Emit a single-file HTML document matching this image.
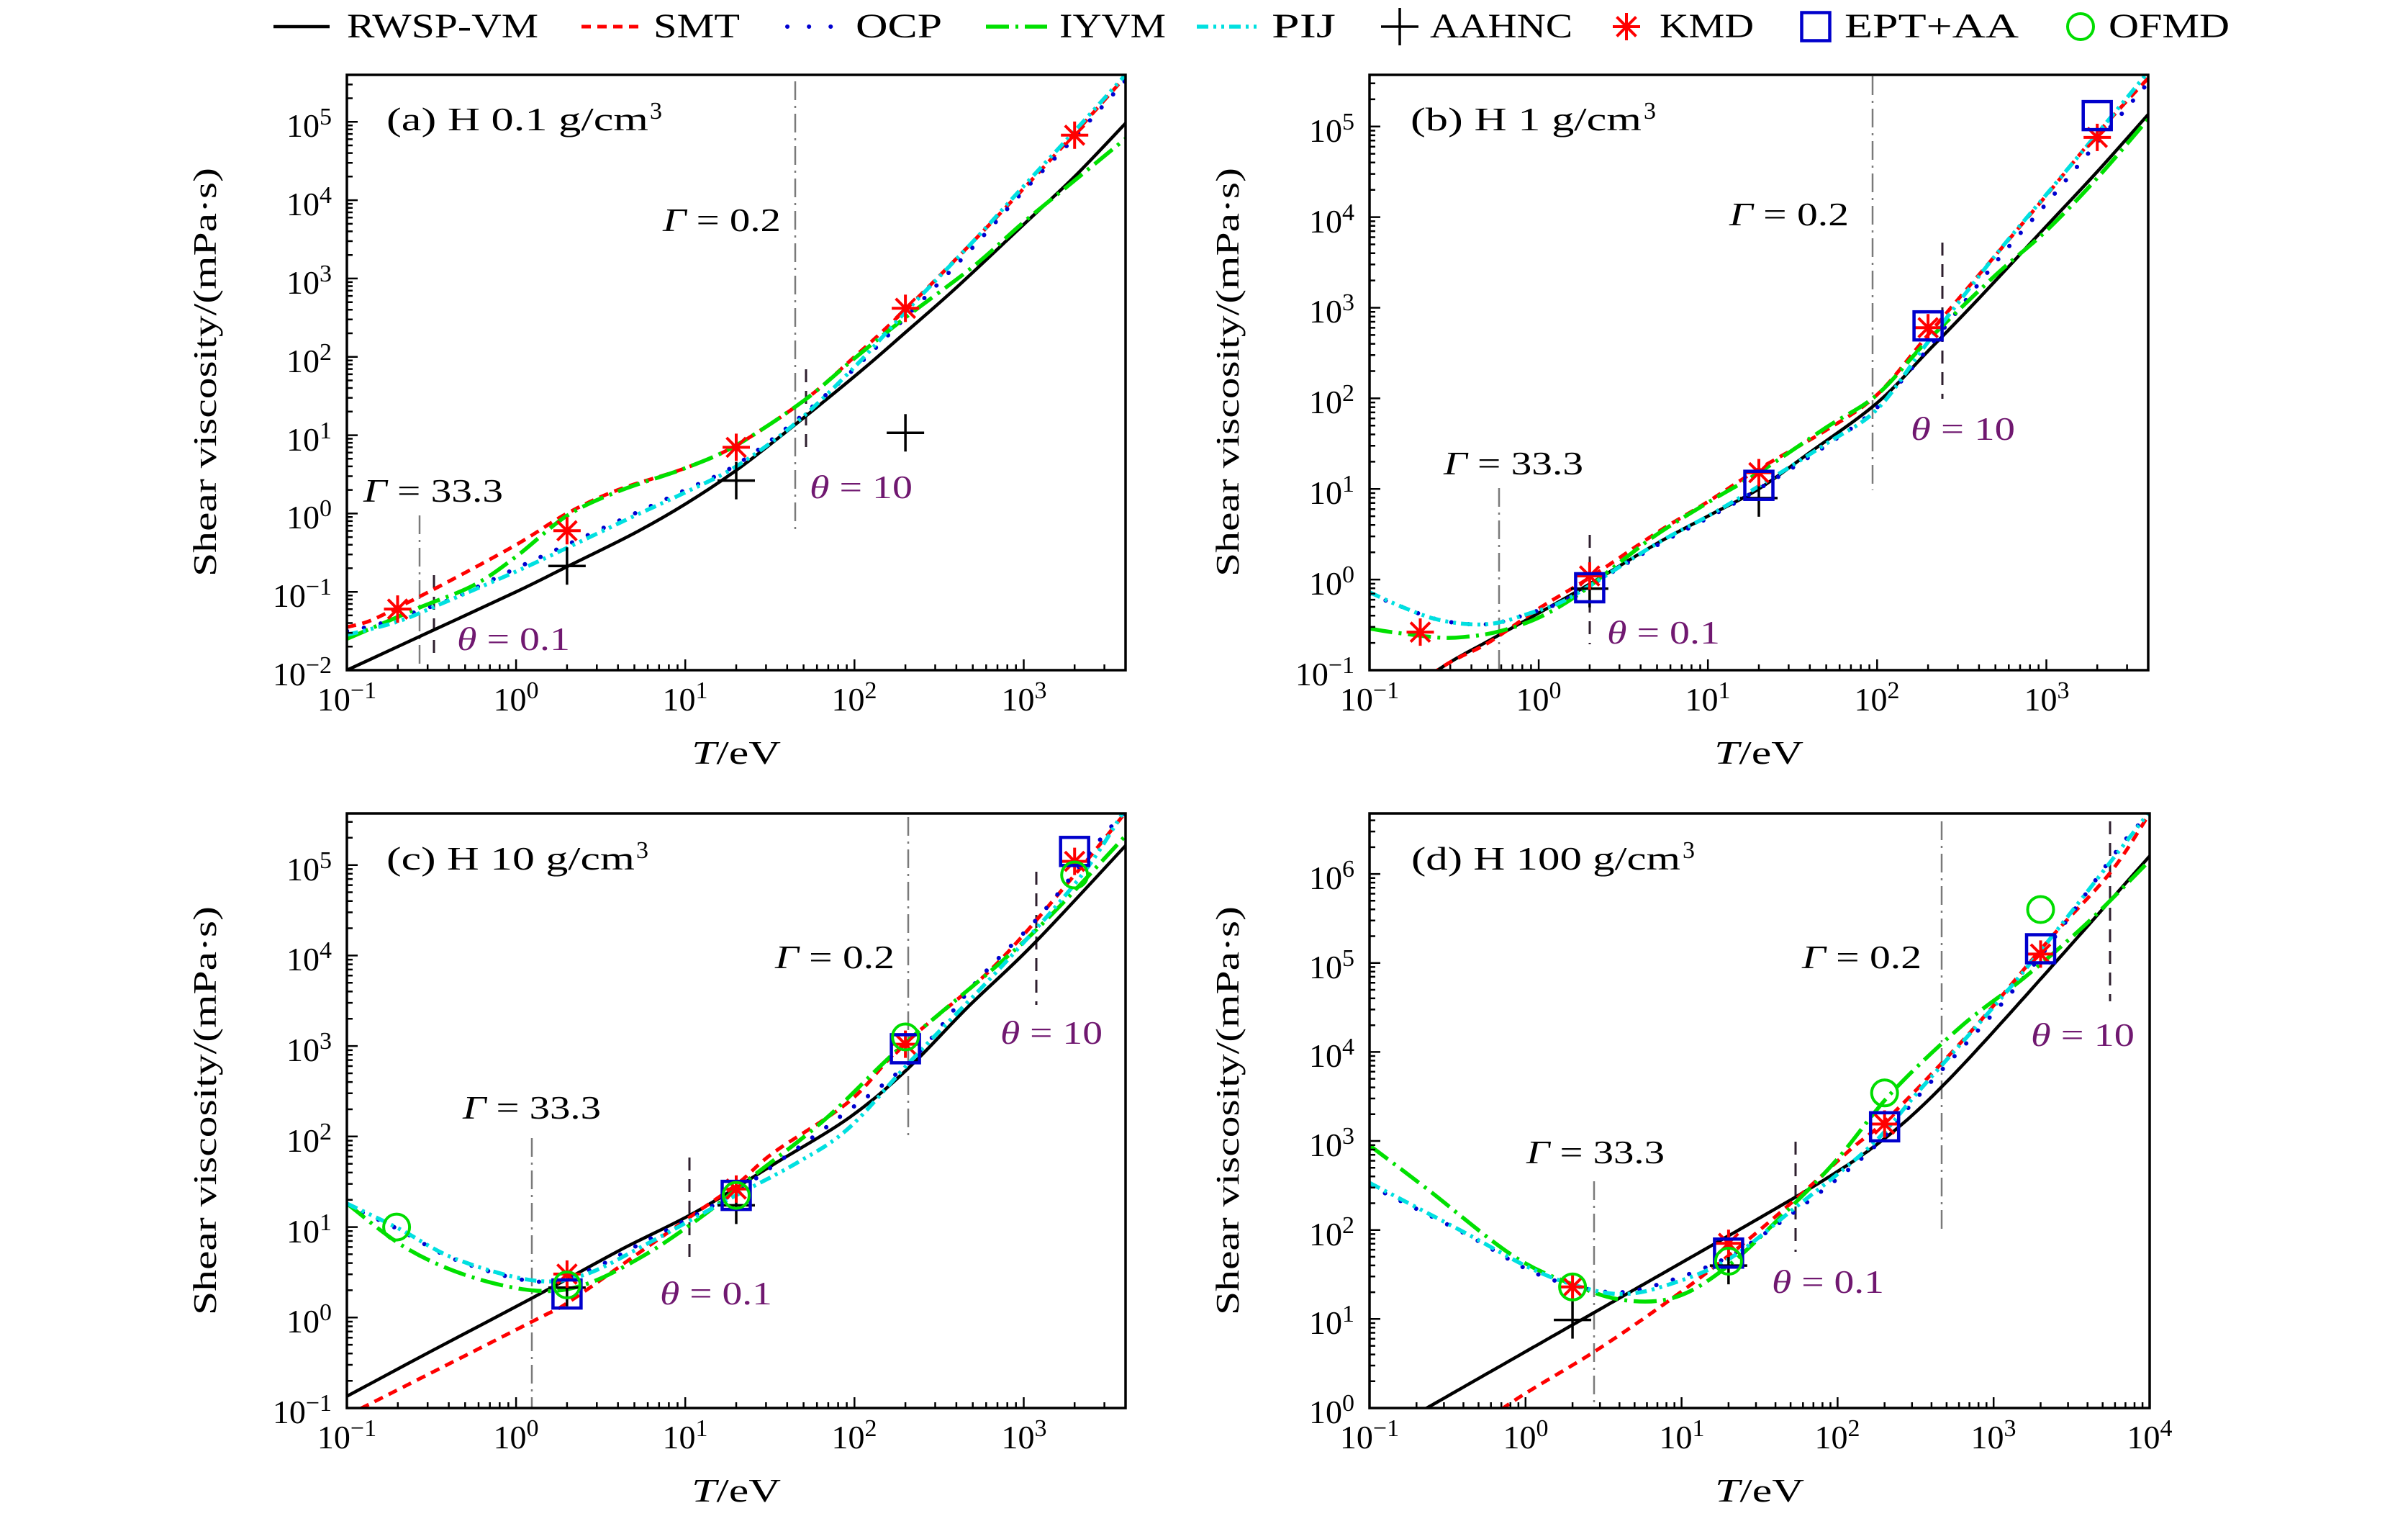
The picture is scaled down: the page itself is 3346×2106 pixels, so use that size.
<!DOCTYPE html>
<html>
<head>
<meta charset="utf-8">
<style>
html,body{margin:0;padding:0;background:#fff;}
svg{display:block;}
text{font-family:"Liberation Serif","DejaVu Serif",serif;fill:#000;}
.pu{fill:#701870;}
</style>
</head>
<body>
<svg id="s" xmlns="http://www.w3.org/2000/svg" width="3346" height="2106" viewBox="0 0 3346 2106">
<rect x="0" y="0" width="3346" height="2106" fill="#fff"/>
<defs>
<clipPath id="ca"><rect x="482" y="104" width="1082" height="827"/></clipPath>
<clipPath id="cb"><rect x="1903" y="104" width="1082" height="827"/></clipPath>
<clipPath id="cc"><rect x="482" y="1130" width="1082" height="826"/></clipPath>
<clipPath id="cd"><rect x="1903" y="1130" width="1084" height="826"/></clipPath>
</defs>

<!-- reference lines -->
<g fill="none">
<g stroke="#7a7a7a" stroke-width="2.5" stroke-dasharray="26 8 3 8">
<line x1="583" y1="716" x2="583" y2="922"/>
<line x1="1105" y1="113" x2="1105" y2="740"/>
<line x1="2083" y1="678" x2="2083" y2="931"/>
<line x1="2602" y1="106" x2="2602" y2="681"/>
<line x1="739" y1="1581" x2="739" y2="1956"/>
<line x1="1262" y1="1135" x2="1262" y2="1581"/>
<line x1="2215" y1="1641" x2="2215" y2="1956"/>
<line x1="2698" y1="1141" x2="2698" y2="1711"/>
</g>
<g stroke="#2e1f2e" stroke-width="3" stroke-dasharray="18 12">
<line x1="603" y1="799" x2="603" y2="915"/>
<line x1="1120" y1="513" x2="1120" y2="626"/>
<line x1="2209" y1="743" x2="2209" y2="895"/>
<line x1="2699" y1="337" x2="2699" y2="554"/>
<line x1="958" y1="1608" x2="958" y2="1755"/>
<line x1="1440" y1="1211" x2="1440" y2="1396"/>
<line x1="2495" y1="1586" x2="2495" y2="1739"/>
<line x1="2932" y1="1141" x2="2932" y2="1391"/>
</g>
</g>

<g id="plots"></g>

<!-- Legend -->
<g fill="none">
<line x1="380" y1="37" x2="458" y2="37" stroke="#000" stroke-width="4.5"/>
<line x1="808" y1="37" x2="890" y2="37" stroke="#f00" stroke-width="5" stroke-dasharray="13 9"/>
<line x1="1094" y1="37" x2="1175" y2="37" stroke="#0000d0" stroke-width="6" stroke-dasharray="0.1 30" stroke-linecap="round"/>
<line x1="1370" y1="37" x2="1455" y2="37" stroke="#00e000" stroke-width="5.5" stroke-dasharray="32 9 4 9"/>
<line x1="1663" y1="37" x2="1750" y2="37" stroke="#00e0e0" stroke-width="5.5" stroke-dasharray="16 7 4 7 4 7"/>
</g>
<g font-size="48">
<text x="482" y="52" textLength="266" lengthAdjust="spacingAndGlyphs">RWSP-VM</text>
<text x="908" y="52" textLength="120" lengthAdjust="spacingAndGlyphs">SMT</text>
<text x="1189" y="52" textLength="120" lengthAdjust="spacingAndGlyphs">OCP</text>
<text x="1472" y="52" textLength="148" lengthAdjust="spacingAndGlyphs">IYVM</text>
<text x="1767" y="52" textLength="89" lengthAdjust="spacingAndGlyphs">PIJ</text>
<text x="1987" y="52" textLength="198" lengthAdjust="spacingAndGlyphs">AAHNC</text>
<text x="2306" y="52" textLength="131" lengthAdjust="spacingAndGlyphs">KMD</text>
<text x="2563" y="52" textLength="242" lengthAdjust="spacingAndGlyphs">EPT+AA</text>
<text x="2930" y="52" textLength="168" lengthAdjust="spacingAndGlyphs">OFMD</text>
</g>

<!-- Panel titles -->
<g font-size="46">
<text x="537" y="181" textLength="364" lengthAdjust="spacingAndGlyphs">(a) H 0.1 g/cm</text>
<text x="903" y="165" font-size="34">3</text>
<text x="1960" y="181" textLength="321" lengthAdjust="spacingAndGlyphs">(b) H 1 g/cm</text>
<text x="2284" y="165" font-size="34">3</text>
<text x="537" y="1208" textLength="345" lengthAdjust="spacingAndGlyphs">(c) H 10 g/cm</text>
<text x="884" y="1192" font-size="34">3</text>
<text x="1961" y="1208" textLength="374" lengthAdjust="spacingAndGlyphs">(d) H 100 g/cm</text>
<text x="2338" y="1192" font-size="34">3</text>
</g>

<!-- Gamma / theta annotations -->
<g font-size="46">
<text x="921" y="321" textLength="164" lengthAdjust="spacingAndGlyphs"><tspan font-style="italic">Γ</tspan> = 0.2</text>
<text x="2403" y="313" textLength="166" lengthAdjust="spacingAndGlyphs"><tspan font-style="italic">Γ</tspan> = 0.2</text>
<text x="1077" y="1345" textLength="166" lengthAdjust="spacingAndGlyphs"><tspan font-style="italic">Γ</tspan> = 0.2</text>
<text x="2504" y="1345" textLength="166" lengthAdjust="spacingAndGlyphs"><tspan font-style="italic">Γ</tspan> = 0.2</text>

<text x="505" y="697" textLength="194" lengthAdjust="spacingAndGlyphs"><tspan font-style="italic">Γ</tspan> = 33.3</text>
<text x="2006" y="659" textLength="194" lengthAdjust="spacingAndGlyphs"><tspan font-style="italic">Γ</tspan> = 33.3</text>
<text x="643" y="1554" textLength="192" lengthAdjust="spacingAndGlyphs"><tspan font-style="italic">Γ</tspan> = 33.3</text>
<text x="2121" y="1616" textLength="192" lengthAdjust="spacingAndGlyphs"><tspan font-style="italic">Γ</tspan> = 33.3</text>

<text class="pu" x="635" y="903" textLength="157" lengthAdjust="spacingAndGlyphs"><tspan font-style="italic">θ</tspan> = 0.1</text>
<text class="pu" x="2233" y="894" textLength="157" lengthAdjust="spacingAndGlyphs"><tspan font-style="italic">θ</tspan> = 0.1</text>
<text class="pu" x="917" y="1812" textLength="156" lengthAdjust="spacingAndGlyphs"><tspan font-style="italic">θ</tspan> = 0.1</text>
<text class="pu" x="2462" y="1796" textLength="156" lengthAdjust="spacingAndGlyphs"><tspan font-style="italic">θ</tspan> = 0.1</text>

<text class="pu" x="1125" y="692" textLength="143" lengthAdjust="spacingAndGlyphs"><tspan font-style="italic">θ</tspan> = 10</text>
<text class="pu" x="2655" y="611" textLength="145" lengthAdjust="spacingAndGlyphs"><tspan font-style="italic">θ</tspan> = 10</text>
<text class="pu" x="1390" y="1450" textLength="142" lengthAdjust="spacingAndGlyphs"><tspan font-style="italic">θ</tspan> = 10</text>
<text class="pu" x="2822" y="1453" textLength="144" lengthAdjust="spacingAndGlyphs"><tspan font-style="italic">θ</tspan> = 10</text>
</g>

<!-- Axis labels -->
<g font-size="46">
<text transform="translate(300,517) rotate(-90)" text-anchor="middle" textLength="568" lengthAdjust="spacingAndGlyphs">Shear viscosity/(mPa·s)</text>
<text transform="translate(1721,517) rotate(-90)" text-anchor="middle" textLength="568" lengthAdjust="spacingAndGlyphs">Shear viscosity/(mPa·s)</text>
<text transform="translate(300,1543) rotate(-90)" text-anchor="middle" textLength="568" lengthAdjust="spacingAndGlyphs">Shear viscosity/(mPa·s)</text>
<text transform="translate(1721,1543) rotate(-90)" text-anchor="middle" textLength="568" lengthAdjust="spacingAndGlyphs">Shear viscosity/(mPa·s)</text>
<text x="1023" y="1061" text-anchor="middle" textLength="124" lengthAdjust="spacingAndGlyphs"><tspan font-style="italic">T</tspan>/eV</text>
<text x="2444" y="1061" text-anchor="middle" textLength="124" lengthAdjust="spacingAndGlyphs"><tspan font-style="italic">T</tspan>/eV</text>
<text x="1023" y="2086" text-anchor="middle" textLength="124" lengthAdjust="spacingAndGlyphs"><tspan font-style="italic">T</tspan>/eV</text>
<text x="2445" y="2086" text-anchor="middle" textLength="124" lengthAdjust="spacingAndGlyphs"><tspan font-style="italic">T</tspan>/eV</text>
</g>

<!-- Tick labels panel a -->
<g font-size="46">
<text x="482" y="987" text-anchor="middle">10<tspan dy="-17" font-size="34">−1</tspan></text>
<text x="717" y="987" text-anchor="middle">10<tspan dy="-17" font-size="34">0</tspan></text>
<text x="952" y="987" text-anchor="middle">10<tspan dy="-17" font-size="34">1</tspan></text>
<text x="1187" y="987" text-anchor="middle">10<tspan dy="-17" font-size="34">2</tspan></text>
<text x="1423" y="987" text-anchor="middle">10<tspan dy="-17" font-size="34">3</tspan></text>

<text x="461" y="952" text-anchor="end">10<tspan dy="-17" font-size="34">−2</tspan></text>
<text x="461" y="843" text-anchor="end">10<tspan dy="-17" font-size="34">−1</tspan></text>
<text x="461" y="734" text-anchor="end">10<tspan dy="-17" font-size="34">0</tspan></text>
<text x="461" y="626" text-anchor="end">10<tspan dy="-17" font-size="34">1</tspan></text>
<text x="461" y="517" text-anchor="end">10<tspan dy="-17" font-size="34">2</tspan></text>
<text x="461" y="408" text-anchor="end">10<tspan dy="-17" font-size="34">3</tspan></text>
<text x="461" y="299" text-anchor="end">10<tspan dy="-17" font-size="34">4</tspan></text>
<text x="461" y="190" text-anchor="end">10<tspan dy="-17" font-size="34">5</tspan></text>
</g>
<!-- panel b -->
<g font-size="46">
<text x="1903" y="987" text-anchor="middle">10<tspan dy="-17" font-size="34">−1</tspan></text>
<text x="2138" y="987" text-anchor="middle">10<tspan dy="-17" font-size="34">0</tspan></text>
<text x="2373" y="987" text-anchor="middle">10<tspan dy="-17" font-size="34">1</tspan></text>
<text x="2608" y="987" text-anchor="middle">10<tspan dy="-17" font-size="34">2</tspan></text>
<text x="2844" y="987" text-anchor="middle">10<tspan dy="-17" font-size="34">3</tspan></text>

<text x="1882" y="952" text-anchor="end">10<tspan dy="-17" font-size="34">−1</tspan></text>
<text x="1882" y="826" text-anchor="end">10<tspan dy="-17" font-size="34">0</tspan></text>
<text x="1882" y="700" text-anchor="end">10<tspan dy="-17" font-size="34">1</tspan></text>
<text x="1882" y="574" text-anchor="end">10<tspan dy="-17" font-size="34">2</tspan></text>
<text x="1882" y="448" text-anchor="end">10<tspan dy="-17" font-size="34">3</tspan></text>
<text x="1882" y="323" text-anchor="end">10<tspan dy="-17" font-size="34">4</tspan></text>
<text x="1882" y="197" text-anchor="end">10<tspan dy="-17" font-size="34">5</tspan></text>
</g>
<!-- panel c -->
<g font-size="46">
<text x="482" y="2012" text-anchor="middle">10<tspan dy="-17" font-size="34">−1</tspan></text>
<text x="717" y="2012" text-anchor="middle">10<tspan dy="-17" font-size="34">0</tspan></text>
<text x="952" y="2012" text-anchor="middle">10<tspan dy="-17" font-size="34">1</tspan></text>
<text x="1187" y="2012" text-anchor="middle">10<tspan dy="-17" font-size="34">2</tspan></text>
<text x="1423" y="2012" text-anchor="middle">10<tspan dy="-17" font-size="34">3</tspan></text>

<text x="461" y="1977" text-anchor="end">10<tspan dy="-17" font-size="34">−1</tspan></text>
<text x="461" y="1851" text-anchor="end">10<tspan dy="-17" font-size="34">0</tspan></text>
<text x="461" y="1726" text-anchor="end">10<tspan dy="-17" font-size="34">1</tspan></text>
<text x="461" y="1600" text-anchor="end">10<tspan dy="-17" font-size="34">2</tspan></text>
<text x="461" y="1474" text-anchor="end">10<tspan dy="-17" font-size="34">3</tspan></text>
<text x="461" y="1348" text-anchor="end">10<tspan dy="-17" font-size="34">4</tspan></text>
<text x="461" y="1223" text-anchor="end">10<tspan dy="-17" font-size="34">5</tspan></text>
</g>
<!-- panel d -->
<g font-size="46">
<text x="1903" y="2012" text-anchor="middle">10<tspan dy="-17" font-size="34">−1</tspan></text>
<text x="2120" y="2012" text-anchor="middle">10<tspan dy="-17" font-size="34">0</tspan></text>
<text x="2337" y="2012" text-anchor="middle">10<tspan dy="-17" font-size="34">1</tspan></text>
<text x="2553" y="2012" text-anchor="middle">10<tspan dy="-17" font-size="34">2</tspan></text>
<text x="2770" y="2012" text-anchor="middle">10<tspan dy="-17" font-size="34">3</tspan></text>
<text x="2987" y="2012" text-anchor="middle">10<tspan dy="-17" font-size="34">4</tspan></text>

<text x="1882" y="1977" text-anchor="end">10<tspan dy="-17" font-size="34">0</tspan></text>
<text x="1882" y="1853" text-anchor="end">10<tspan dy="-17" font-size="34">1</tspan></text>
<text x="1882" y="1730" text-anchor="end">10<tspan dy="-17" font-size="34">2</tspan></text>
<text x="1882" y="1606" text-anchor="end">10<tspan dy="-17" font-size="34">3</tspan></text>
<text x="1882" y="1482" text-anchor="end">10<tspan dy="-17" font-size="34">4</tspan></text>
<text x="1882" y="1359" text-anchor="end">10<tspan dy="-17" font-size="34">5</tspan></text>
<text x="1882" y="1235" text-anchor="end">10<tspan dy="-17" font-size="34">6</tspan></text>
</g>
</svg>
<script>
(function(){
var NS="http://www.w3.org/2000/svg";
var root=document.getElementById('plots');
var P={
 a:{x0:482,x1:1564,y0:104,y1:931,lx0:-1,lx1:3.602,ly0:-2,ly1:5.6,clip:'ca'},
 b:{x0:1903,x1:2985,y0:104,y1:931,lx0:-1,lx1:3.602,ly0:-1,ly1:5.57,clip:'cb'},
 c:{x0:482,x1:1564,y0:1130,y1:1956,lx0:-1,lx1:3.602,ly0:-1,ly1:5.57,clip:'cc'},
 d:{x0:1903,x1:2987,y0:1130,y1:1956,lx0:-1,lx1:4,ly0:0,ly1:6.68,clip:'cd'}
};
function X(p,l){return p.x0+(l-p.lx0)/(p.lx1-p.lx0)*(p.x1-p.x0);}
function Y(p,l){return p.y1-(l-p.ly0)/(p.ly1-p.ly0)*(p.y1-p.y0);}
function el(tag,a,par){var e=document.createElementNS(NS,tag);for(var k in a)e.setAttribute(k,a[k]);(par||root).appendChild(e);return e;}
function f(v){return v.toFixed(1);}
function spline(pts){
 var d='M'+f(pts[0][0])+','+f(pts[0][1]);
 for(var i=0;i<pts.length-1;i++){
  var p0=pts[Math.max(i-1,0)],p1=pts[i],p2=pts[i+1],p3=pts[Math.min(i+2,pts.length-1)];
  var c1=[p1[0]+(p2[0]-p0[0])/6,p1[1]+(p2[1]-p0[1])/6];
  var c2=[p2[0]-(p3[0]-p1[0])/6,p2[1]-(p3[1]-p1[1])/6];
  d+='C'+f(c1[0])+','+f(c1[1])+' '+f(c2[0])+','+f(c2[1])+' '+f(p2[0])+','+f(p2[1]);
 }
 return d;
}
function sample(fn,a,b,st){var o=[];for(var t=a;t<=b+1e-9;t+=st)o.push([t,fn(t)]);return o;}
var ST={
 k:{stroke:'#000','stroke-width':4.5},
 r:{stroke:'#f00','stroke-width':5,'stroke-dasharray':'13 9'},
 b:{stroke:'#0000d0','stroke-width':6,'stroke-dasharray':'0.1 24','stroke-linecap':'round'},
 g:{stroke:'#00e000','stroke-width':5.5,'stroke-dasharray':'32 9 4 9'},
 c:{stroke:'#00e0e0','stroke-width':5.5,'stroke-dasharray':'16 7 4 7 4 7'}
};
var blackD=sample(function(t){return 0.633+t+0.196*Math.log(1+Math.exp((t-2.4)/0.2));},-1,4.0,0.05);
var D={
a:{
 k:[[-1,-2],[-0.5,-1.5],[0,-1.0],[0.3,-0.68],[0.7,-0.25],[1,0.12],[1.3,0.55],[1.6,1.05],[2,1.75],[2.3,2.31],[2.6,2.88],[3,3.69],[3.3,4.3],[3.61,5.0]],
 r:[[-1,-1.45],[-0.87,-1.375],[-0.7,-1.2],[-0.44,-0.915],[0,-0.4],[0.3,0.0],[0.6,0.3],[1,0.58],[1.3,0.87],[1.7,1.44],[2,2.0],[2.3,2.6],[2.7,3.47],[3,4.15],[3.3,4.85],[3.61,5.6]],
 b:[[-1,-1.5],[-0.81,-1.41],[-0.44,-1.14],[-0.27,-0.98],[0,-0.7],[0.3,-0.4],[0.7,0.0],[1,0.3],[1.3,0.62],[1.65,1.18],[2,1.85],[2.3,2.5],[2.7,3.4],[3,4.12],[3.3,4.8],[3.61,5.55]],
 g:[[-1,-1.6],[-0.58,-1.21],[-0.25,-0.915],[0,-0.55],[0.3,-0.03],[0.6,0.28],[1,0.58],[1.3,0.87],[1.7,1.44],[2,1.98],[2.3,2.5],[2.7,3.15],[3,3.72],[3.3,4.25],[3.61,4.8]],
 c:[[-1,-1.55],[-0.7,-1.38],[-0.44,-1.15],[0,-0.74],[0.3,-0.44],[0.7,-0.03],[1,0.27],[1.3,0.6],[1.65,1.15],[2,1.87],[2.3,2.57],[2.7,3.47],[3,4.18],[3.3,4.88],[3.61,5.62]],
 plus:[[0.301,-0.67],[1.301,0.42],[2.301,1.03]],
 star:[[-0.7,-1.22],[0.301,-0.22],[1.301,0.845],[2.301,2.62],[3.301,4.83]],
 sq:[],ci:[]
},
b:{
 k:[[-1,-1.55],[-0.59,-0.99],[-0.3,-0.68],[0,-0.37],[0.3,-0.05],[0.7,0.4],[1,0.7],[1.3,1.0],[1.6,1.4],[2,1.95],[2.3,2.52],[2.6,3.1],[3,3.9],[3.3,4.5],[3.61,5.15]],
 r:[[-1,-1.6],[-0.59,-0.99],[-0.3,-0.7],[0,-0.32],[0.3,0.02],[0.7,0.52],[1,0.86],[1.3,1.22],[1.7,1.65],[2,2.04],[2.3,2.7],[2.7,3.58],[3,4.24],[3.3,4.92],[3.61,5.55]],
 b:[[-1,-0.16],[-0.81,-0.3],[-0.62,-0.43],[-0.43,-0.49],[-0.25,-0.48],[-0.05,-0.37],[0.12,-0.26],[0.3,-0.07],[0.7,0.38],[1,0.68],[1.3,1.0],[1.7,1.48],[2,1.9],[2.3,2.55],[2.7,3.5],[3,4.15],[3.3,4.82],[3.61,5.5]],
 g:[[-1,-0.54],[-0.87,-0.58],[-0.59,-0.64],[-0.42,-0.63],[-0.23,-0.57],[0,-0.42],[0.23,-0.17],[0.5,0.22],[0.7,0.5],[1,0.85],[1.3,1.18],[1.7,1.68],[2,2.04],[2.3,2.64],[2.7,3.36],[3,3.85],[3.3,4.43],[3.61,5.1]],
 c:[[-1,-0.14],[-0.81,-0.3],[-0.62,-0.43],[-0.43,-0.49],[-0.25,-0.48],[-0.05,-0.37],[0.12,-0.26],[0.3,-0.07],[0.7,0.4],[1,0.7],[1.3,1.03],[1.7,1.5],[2,1.88],[2.3,2.62],[2.7,3.58],[3,4.25],[3.3,4.92],[3.61,5.62]],
 plus:[[0.301,-0.1],[1.301,0.9]],
 star:[[-0.7,-0.58],[0.301,0.04],[1.301,1.18],[2.301,2.78],[3.301,4.88]],
 sq:[[0.301,-0.09],[1.301,1.04],[2.301,2.8],[3.301,5.12]],
 ci:[]
},
c:{
 k:[[-1,-0.87],[-0.5,-0.37],[0.1,0.22],[0.61,0.74],[1.065,1.17],[1.52,1.69],[1.97,2.21],[2.31,2.74],[2.67,3.43],[3.06,4.13],[3.61,5.23]],
 r:[[-1,-1.08],[-0.87,-0.96],[0.1,-0.04],[0.31,0.17],[0.7,0.68],[1.035,1.12],[1.31,1.48],[1.52,1.82],[1.97,2.39],[2.28,3.0],[2.82,3.87],[3.31,4.91],[3.61,5.6]],
 b:[[-1,1.24],[-0.69,0.97],[-0.36,0.64],[0.1,0.4],[0.4,0.5],[0.76,0.84],[1.25,1.33],[1.58,1.76],[1.88,2.17],[2.34,2.85],[2.73,3.73],[3.1,4.45],[3.46,5.3],[3.61,5.6]],
 g:[[-1,1.26],[-0.66,0.78],[-0.3,0.47],[0.1,0.3],[0.4,0.36],[0.76,0.69],[1.1,1.12],[1.37,1.52],[1.82,2.18],[2.28,3.0],[2.88,3.95],[3.19,4.5],[3.61,5.34]],
 c:[[-1,1.26],[-0.69,0.98],[-0.36,0.65],[0.1,0.41],[0.4,0.47],[0.76,0.8],[1.25,1.3],[1.67,1.72],[1.97,2.1],[2.34,2.85],[2.88,3.9],[3.34,4.88],[3.61,5.65]],
 plus:[[0.301,0.33],[1.301,1.24]],
 star:[[0.301,0.48],[1.301,1.42],[2.301,3.02],[3.301,5.04]],
 sq:[[0.301,0.26],[1.301,1.35],[2.301,2.97],[3.301,5.15]],
 ci:[[-0.706,1.0],[0.301,0.36],[1.301,1.35],[2.301,3.1],[3.301,4.89]]
},
d:{
 k:blackD,
 r:[[-0.45,-0.5],[-0.142,0],[0.447,0.64],[0.906,1.19],[1.3,1.71],[1.72,2.33],[2.08,2.9],[2.35,3.3],[2.87,4.26],[3.36,5.27],[3.75,6.02],[4.0,6.68]],
 b:[[-1,2.5],[-0.4,1.97],[0.02,1.55],[0.316,1.37],[0.61,1.3],[0.906,1.42],[1.3,1.7],[1.72,2.2],[2.215,2.9],[2.54,3.55],[3.2,4.85],[3.82,6.33],[4.0,6.65]],
 g:[[-1,2.95],[-0.63,2.46],[-0.08,1.71],[0.316,1.38],[0.64,1.21],[0.97,1.25],[1.3,1.6],[1.69,2.24],[2.0,2.8],[2.35,3.55],[2.8,4.3],[3.2,4.84],[3.6,5.45],[4.0,6.15]],
 c:[[-1,2.53],[-0.4,1.98],[0.02,1.58],[0.316,1.38],[0.61,1.28],[0.906,1.38],[1.3,1.67],[1.72,2.24],[2.215,2.95],[2.54,3.6],[3.2,4.92],[4.0,6.7]],
 plus:[[0.301,0.99],[1.301,1.6]],
 star:[[0.301,1.36],[1.301,1.85],[2.301,3.19],[3.301,5.1]],
 sq:[[1.301,1.74],[2.301,3.16],[3.301,5.16]],
 ci:[[0.301,1.36],[1.301,1.65],[2.301,3.54],[3.301,5.6]]
}
};
function star(x,y,par){var g=el('g',{stroke:'#f00','stroke-width':4},par);[0,45,90,135].forEach(function(a){var r=a*Math.PI/180,dx=19*Math.cos(r),dy=19*Math.sin(r);el('line',{x1:f(x-dx),y1:f(y-dy),x2:f(x+dx),y2:f(y+dy)},g);});}
function plus(x,y,par){var g=el('g',{stroke:'#000','stroke-width':3.5},par);el('line',{x1:x-26,y1:y,x2:x+26,y2:y},g);el('line',{x1:x,y1:y-26,x2:x,y2:y+26},g);}
function sq(x,y,par){el('rect',{x:f(x-19.5),y:f(y-19.5),width:39,height:39,fill:'none',stroke:'#0000cc','stroke-width':4.5},par);}
function ci(x,y,par){el('circle',{cx:f(x),cy:f(y),r:18,fill:'none',stroke:'#00dd00','stroke-width':4},par);}

['a','b','c','d'].forEach(function(k){
 var p=P[k],d=D[k];
 var g=el('g',{'clip-path':'url(#'+p.clip+')',fill:'none','stroke-linejoin':'round'});
 ['k','r','b','g','c'].forEach(function(s){
  var pts=d[s].map(function(q){return [X(p,q[0]),Y(p,q[1])];});
  var a={d:spline(pts)};for(var t in ST[s])a[t]=ST[s][t];
  el('path',a,g);
 });
 var m=el('g',{});
 d.plus.forEach(function(q){plus(X(p,q[0]),Y(p,q[1]),m);});
 d.star.forEach(function(q){star(X(p,q[0]),Y(p,q[1]),m);});
 d.sq.forEach(function(q){sq(X(p,q[0]),Y(p,q[1]),m);});
 d.ci.forEach(function(q){ci(X(p,q[0]),Y(p,q[1]),m);});
 var td='';
 for(var e=Math.floor(p.lx0);e<=Math.ceil(p.lx1);e++){
  for(var n=1;n<=9;n++){
   var l=e+Math.log10(n); if(l<p.lx0-1e-6||l>p.lx1+1e-6)continue;
   var x=X(p,l); td+='M'+f(x)+','+p.y1+'v'+(n==1?-15:-8);
  }
 }
 for(var e2=Math.floor(p.ly0);e2<=Math.ceil(p.ly1);e2++){
  for(var n2=1;n2<=9;n2++){
   var l2=e2+Math.log10(n2); if(l2<p.ly0-1e-6||l2>p.ly1+1e-6)continue;
   var y=Y(p,l2); td+='M'+p.x0+','+f(y)+'h'+(n2==1?15:8);
  }
 }
 el('path',{d:td,stroke:'#000','stroke-width':2.5,fill:'none'});
 el('rect',{x:p.x0,y:p.y0,width:p.x1-p.x0,height:p.y1-p.y0,fill:'none',stroke:'#000','stroke-width':3.5});
});
var lg=el('g',{});
plus(1945,37,lg); star(2260,37,lg); sq(2523,37,lg); ci(2891,37,lg);
})();
</script>
</body>
</html>
